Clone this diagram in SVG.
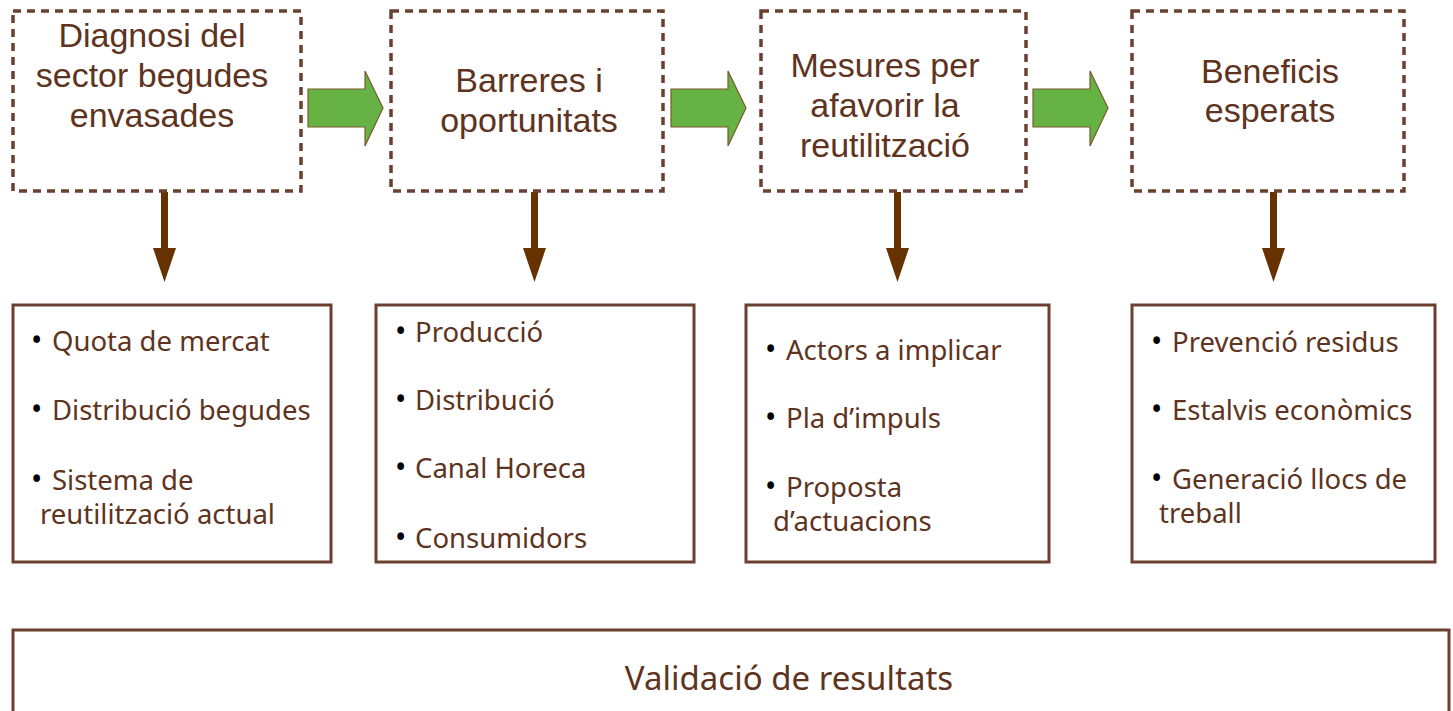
<svg xmlns="http://www.w3.org/2000/svg" width="1453" height="711" viewBox="0 0 1453 711">
<defs>
<style>
.dash{fill:none;stroke:#6b4030;stroke-width:3.5;stroke-dasharray:8 6}
.box{fill:#fff;stroke:#6b4030;stroke-width:3}
.t{font-family:"Noto Sans","Open Sans",sans-serif;fill:#5e3320}
.h{font-family:"Liberation Sans",Arial,sans-serif;font-size:34px;text-anchor:middle}
.b{font-size:27.5px}
.dot{font-family:"Noto Sans",sans-serif;font-size:30px;fill:#000}
.ga{fill:#66b245;stroke:#7a5a2e;stroke-width:1.2}
.ba{fill:#663300}
</style>
</defs>
<rect width="1453" height="711" fill="#fff"/>
<g id="connectors">
<path class="ga" d="M308,89 H365 V71 L383,108 L365,146 V127 H308 Z"/>
<path class="ga" d="M671,89 H728 V71 L746,108 L728,146 V127 H671 Z"/>
<path class="ga" d="M1033,89 H1090 V71 L1108,108 L1090,146 V127 H1033 Z"/>
<path class="ba" d="M161,192 H168 V248 H176 L164.5,282 L153,248 H161 Z"/>
<path class="ba" d="M531,192 H538 V248 H546 L534.5,282 L523,248 H531 Z"/>
<path class="ba" d="M894,192 H901 V248 H909 L897.5,282 L886,248 H894 Z"/>
<path class="ba" d="M1270,192 H1277 V248 H1285 L1273.5,282 L1262,248 H1270 Z"/>
</g>
<g id="n1">
<rect class="dash" x="13" y="11" width="288" height="180"/>
<text class="t h" x="152" y="47">Diagnosi del</text>
<text class="t h" x="152" y="87">sector begudes</text>
<text class="t h" x="152" y="127">envasades</text>
</g>
<g id="n2">
<rect class="dash" x="391" y="11" width="272" height="180"/>
<text class="t h" x="529" y="92">Barreres i</text>
<text class="t h" x="529" y="132">oportunitats</text>
</g>
<g id="n3">
<rect class="dash" x="761" y="11" width="265" height="180"/>
<text class="t h" x="885" y="77">Mesures per</text>
<text class="t h" x="885" y="117">afavorir la</text>
<text class="t h" x="885" y="157">reutilització</text>
</g>
<g id="n4">
<rect class="dash" x="1132" y="11" width="272" height="180"/>
<text class="t h" x="1270" y="83">Beneficis</text>
<text class="t h" x="1270" y="122">esperats</text>
</g>
<g id="l1">
<rect class="box" x="13" y="305" width="318" height="257"/>
<text class="dot" x="31" y="351">•</text><text class="t b" x="52" y="351">Quota de mercat</text>
<text class="dot" x="31" y="420">•</text><text class="t b" x="52" y="420">Distribució begudes</text>
<text class="dot" x="31" y="490">•</text><text class="t b" x="52" y="490">Sistema de</text>
<text class="t b" x="40" y="524">reutilització actual</text>
</g>
<g id="l2">
<rect class="box" x="376" y="305" width="318" height="257"/>
<text class="dot" x="395" y="342">•</text><text class="t b" x="415" y="342">Producció</text>
<text class="dot" x="395" y="410">•</text><text class="t b" x="415" y="410">Distribució</text>
<text class="dot" x="395" y="478">•</text><text class="t b" x="415" y="478">Canal Horeca</text>
<text class="dot" x="395" y="548">•</text><text class="t b" x="415" y="548">Consumidors</text>
</g>
<g id="l3">
<rect class="box" x="746" y="305" width="303" height="257"/>
<text class="dot" x="765" y="360">•</text><text class="t b" x="786" y="360">Actors a implicar</text>
<text class="dot" x="765" y="428">•</text><text class="t b" x="786" y="428">Pla d’impuls</text>
<text class="dot" x="765" y="497">•</text><text class="t b" x="786" y="497">Proposta</text>
<text class="t b" x="773" y="531">d’actuacions</text>
</g>
<g id="l4">
<rect class="box" x="1132" y="305" width="303" height="257"/>
<text class="dot" x="1151" y="352">•</text><text class="t b" x="1172" y="352">Prevenció residus</text>
<text class="dot" x="1151" y="420">•</text><text class="t b" x="1172" y="420">Estalvis econòmics</text>
<text class="dot" x="1151" y="489">•</text><text class="t b" x="1172" y="489">Generació llocs de</text>
<text class="t b" x="1159" y="523">treball</text>
</g>
<g id="validacio">
<rect class="box" x="13" y="630" width="1436" height="100"/>
<text class="t" x="789" y="690" font-size="33" text-anchor="middle">Validació de resultats</text>
</g>
</svg>
